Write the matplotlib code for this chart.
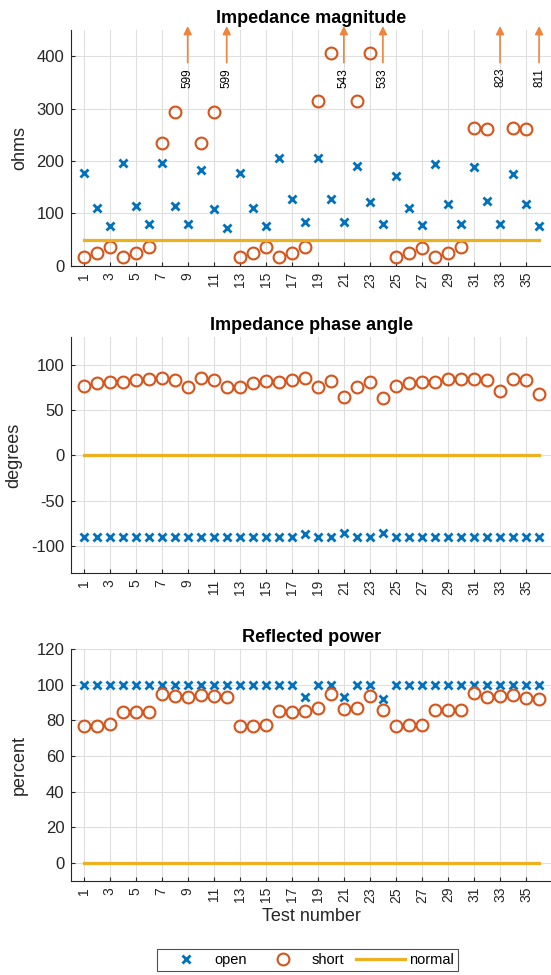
import numpy as np
import matplotlib
matplotlib.use("Agg")
import matplotlib.pyplot as plt

plt.rcParams['font.family'] = ['Liberation Sans', 'DejaVu Sans']
plt.rcParams['axes.unicode_minus'] = False

tests = np.arange(1, 37)

# impedance magnitude (ohms)
open_mag = [177, 110, 76, 196, 115, 79, 196, 115, 79, 182, 108, 72,
            177, 110, 76, 206, 127, 84, 206, 127, 84, 191, 121, 79,
            172, 110, 77, 195, 118, 79, 189, 124, 79, 175, 117, 75]
short_mag = [17, 24, 35, 17, 24, 35, 235, 293, 599, 235, 293, 599,
             17, 24, 35, 17, 25, 35, 314, 406, 543, 314, 406, 533,
             17, 24, 33, 17, 24, 35, 263, 261, 823, 264, 261, 811]
normal_mag = 50

# impedance phase angle (degrees)
open_phase = [-90] * 17 + [-87, -90, -90, -86, -90, -90, -86] + [-90] * 12
short_phase = [76, 80, 81, 80.5, 83, 84, 85, 83, 75.5, 85, 83, 75.5,
               75.5, 80, 82, 81, 83.5, 85, 75.5, 82, 64.5, 75.5, 81, 63.5,
               76, 80, 81, 81, 84, 84.5, 84.5, 83.5, 70.5, 84.5, 83.5, 68]
normal_phase = 0

# reflected power (percent)
open_pow = [100] * 17 + [93, 100, 100, 93, 100, 100, 92] + [100] * 12
short_pow = [77, 77, 78, 84.5, 84.5, 84.5, 94.5, 93.5, 93, 94, 93.5, 93,
             77, 77, 77.5, 85, 84.5, 85, 87, 94.5, 86.5, 87, 93.5, 86,
             77, 77.5, 77.5, 85.5, 86, 86, 95, 93, 93.5, 94, 92.5, 92]
normal_pow = 0

blue = '#0072BD'
orange = '#D95319'
yellow = '#EDB120'
arrow_col = '#F0843C'
axcol = '#262626'

fig = plt.figure(figsize=(5.51, 9.75), dpi=100)

panels = [
    ('Impedance magnitude', 'ohms', open_mag, short_mag, normal_mag, (0, 450), np.arange(0, 401, 100), 0.7275),
    ('Impedance phase angle', 'degrees', open_phase, short_phase, normal_phase, (-130, 130), np.arange(-100, 101, 50), 0.412),
    ('Reflected power', 'percent', open_pow, short_pow, normal_pow, (-10, 120), np.arange(0, 121, 20), 0.0967),
]
heights = [0.2415, 0.242, 0.2378]

axes = []
for (title, ylab, op, sh, nm, ylim, yt, bot), h in zip(panels, heights):
    ax = fig.add_axes([0.128, bot, 0.874, h])
    ax.plot(tests, op, linestyle='none', marker='x', color=blue, ms=5.5, mew=2, label='open')
    ax.plot(tests, sh, linestyle='none', marker='o', mfc='none', mec=orange, ms=8.5, mew=1.5, label='short')
    ax.plot([tests[0], tests[-1]], [nm, nm], color=yellow, lw=2.3, label='normal')
    ax.set_xlim(0, 37)
    ax.set_ylim(*ylim)
    ax.set_yticks(yt)
    ax.set_xticks(np.arange(1, 36, 2))
    ax.set_xticklabels([str(t) for t in range(1, 36, 2)], rotation=90)
    ax.grid(True, color='#dfdfdf', lw=0.8)
    ax.set_axisbelow(True)
    ax.set_title(title, fontsize=13, fontweight='bold', color='black', pad=5)
    ax.set_ylabel(ylab, fontsize=13, color=axcol, labelpad=6)
    ax.tick_params(direction='in', length=3, colors=axcol, pad=4.5)
    ax.tick_params(axis='y', labelsize=12)
    ax.tick_params(axis='x', labelsize=10)
    for s in ['top', 'right']:
        ax.spines[s].set_visible(False)
    for s in ['left', 'bottom']:
        ax.spines[s].set_color(axcol)
        ax.spines[s].set_linewidth(0.8)
    axes.append(ax)

# off-scale shorts: arrow + value
ax0 = axes[0]
for t, v in zip(tests, short_mag):
    if v > 450:
        ax0.annotate('', xy=(t, 458), xytext=(t, 388),
                     arrowprops=dict(arrowstyle='-|>', color=arrow_col, lw=1.2,
                                     mutation_scale=12, shrinkA=0, shrinkB=0),
                     annotation_clip=False)
        ax0.text(t, 378, str(v), rotation=90, ha='center', va='top', fontsize=8.5, color='black')

axes[2].set_xlabel('Test number', fontsize=13, color=axcol, labelpad=4)

handles, labels = axes[0].get_legend_handles_labels()
leg = fig.legend(handles, labels, loc='center', bbox_to_anchor=(0.558, 0.0154), ncol=3,
                 fontsize=10.5, frameon=True, fancybox=False, edgecolor=axcol,
                 handlelength=3.4, handletextpad=0.25, columnspacing=0.8, borderpad=0.25)
leg.get_frame().set_linewidth(0.8)

fig.savefig('out.png', dpi=100)
